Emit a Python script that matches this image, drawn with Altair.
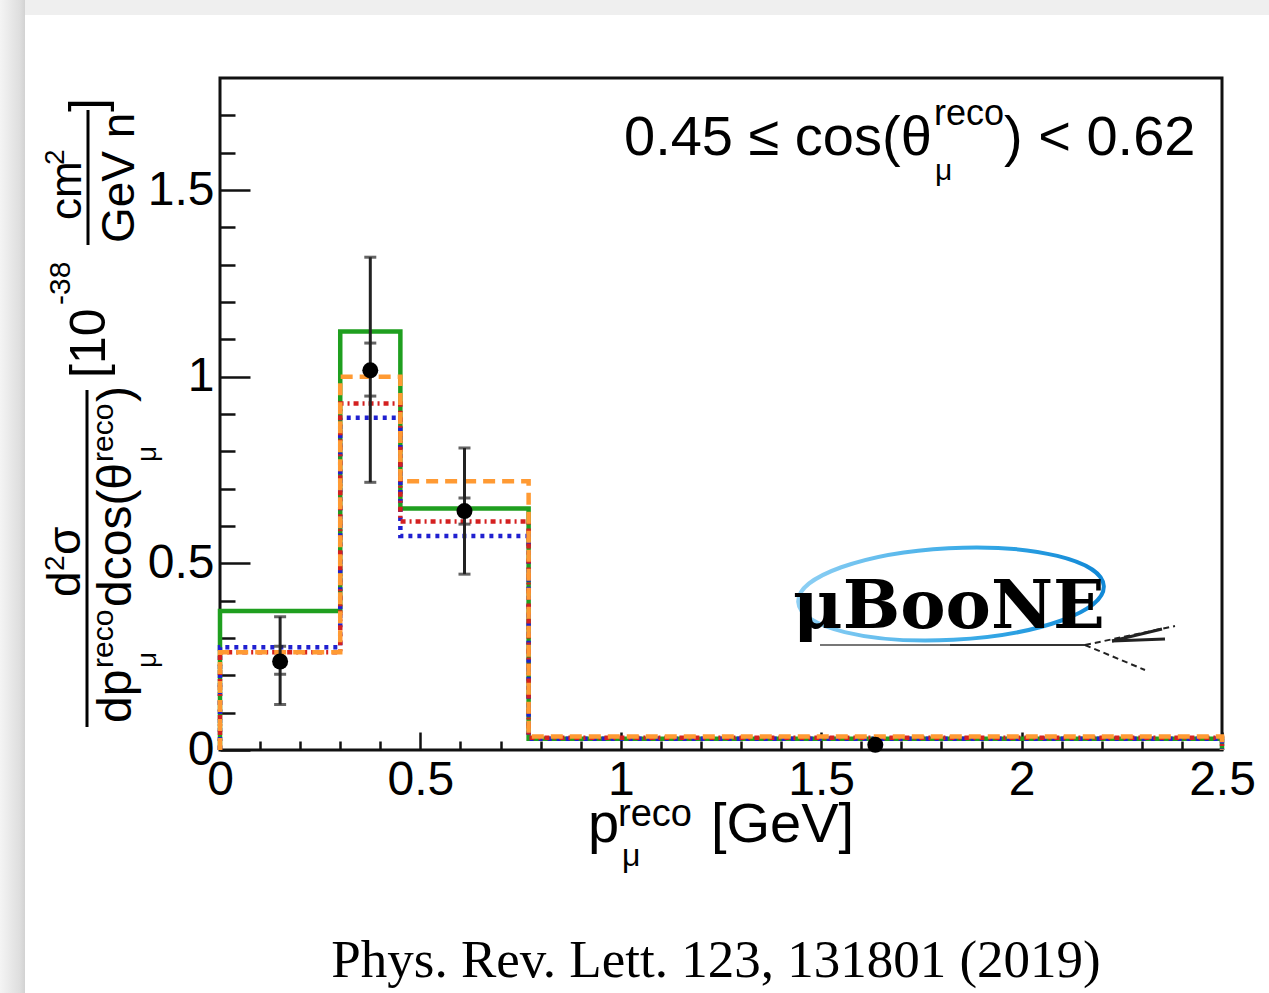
import altair as alt
import pandas as pd

# ---------------- data ----------------
bin_edges = [0.0, 0.30, 0.45, 0.77, 2.5]
green_vals = [0.372, 1.121, 0.647, 0.030]
orange_vals = [0.262, 1.000, 0.720, 0.036]
red_vals = [0.262, 0.928, 0.612, 0.033]
blue_vals = [0.275, 0.890, 0.573, 0.030]

data_x = [0.15, 0.375, 0.61, 1.635]
data_y = [0.237, 1.017, 0.640, 0.014]
tot_lo = [0.122, 0.717, 0.471, 0.008]
tot_hi = [0.357, 1.320, 0.809, 0.020]
stat_lo = [0.203, 0.948, 0.605, 0.010]
stat_hi = [0.278, 1.090, 0.675, 0.018]

x_major = [0, 0.5, 1, 1.5, 2, 2.5]
x_minor = [0.1, 0.2, 0.3, 0.4, 0.6, 0.7, 0.8, 0.9, 1.1, 1.2, 1.3, 1.4,
           1.6, 1.7, 1.8, 1.9, 2.1, 2.2, 2.3, 2.4]
y_major = [0, 0.5, 1, 1.5]
y_minor = [0.1, 0.2, 0.3, 0.4, 0.6, 0.7, 0.8, 0.9, 1.1, 1.2, 1.3, 1.4,
           1.6, 1.7]

label_texts = {
    "cut_main": "0.45 \u2264 cos(\u03b8",
    "cut_sup": "reco",
    "cut_sub": "\u03bc",
    "cut_end": ") < 0.62",
    "xt_p": "p",
    "xt_sup": "reco",
    "xt_sub": "\u03bc",
    "xt_unit": "[GeV]",
    "num_d": "d",
    "num_2": "2",
    "num_sigma": "\u03c3",
    "den_dp": "dp",
    "den_sup1": "reco",
    "den_sub1": "\u03bc",
    "den_dcos": "dcos(\u03b8",
    "den_sup2": "reco",
    "den_sub2": "\u03bc",
    "den_close": ")",
    "u_10": "[10",
    "u_exp": "-38",
    "u_cm": "cm",
    "u_cm2": "2",
    "u_gev": "GeV n",
    "u_close": "]",
    "logo": "\u03bcBooNE",
    "ref": "Phys. Rev. Lett. 123, 131801 (2019)",
}

FONT = "Liberation Sans"
SERIF = "Liberation Serif"
OX, OY = 220, 78  # plot origin on the page

xs = alt.Scale(domain=[0, 2.5], nice=False, zero=False)
ys = alt.Scale(domain=[0, 1.8], nice=False, zero=False)


def steps(vals):
    px, py = [bin_edges[0]], [0.0]
    for i, v in enumerate(vals):
        px += [bin_edges[i], bin_edges[i + 1]]
        py += [v, v]
    px.append(bin_edges[-1])
    py.append(0.0)
    return pd.DataFrame({"p": px, "s": py, "i": list(range(len(px)))})


lab_x = alt.Axis(values=x_major, format="~g", ticks=False, domain=False, grid=False,
                 labelFont=FONT, labelFontSize=48, labelColor="black", labelPadding=6,
                 labelFlush=False, labelOverlap=False, labelBound=False, title=None,
                 orient="bottom")
lab_y = alt.Axis(values=y_major, format="~g", ticks=False, domain=False, grid=False,
                 labelFont=FONT, labelFontSize=48, labelColor="black", labelPadding=6,
                 labelBaseline="middle", labelAlign="right", labelFlush=False,
                 labelOverlap=False, labelBound=False, title=None, orient="left")
maj_x = alt.Axis(values=x_major, labels=False, domain=False, grid=False, tickSize=18,
                 offset=-18, tickWidth=2.5, tickColor="#111", title=None, orient="bottom")
min_x = alt.Axis(values=x_minor, labels=False, domain=False, grid=False, tickSize=9,
                 offset=-9, tickWidth=2.5, tickColor="#111", title=None, orient="bottom")
maj_y = alt.Axis(values=y_major, labels=False, domain=False, grid=False, tickSize=30,
                 offset=-30, tickWidth=2.5, tickColor="#111", title=None, orient="left")
min_y = alt.Axis(values=y_minor, labels=False, domain=False, grid=False, tickSize=15,
                 offset=-15, tickWidth=2.5, tickColor="#111", title=None, orient="left")


def hist(vals, color, dash, ax_x, ax_y):
    kw = dict(color=color, strokeWidth=4.5, strokeCap="butt", interpolate="linear")
    if dash:
        kw["strokeDash"] = dash
    return alt.Chart(steps(vals)).mark_line(**kw).encode(
        x=alt.X("p:Q", scale=xs, axis=ax_x),
        y=alt.Y("s:Q", scale=ys, axis=ax_y),
        order=alt.Order("i:Q"),
    )


layers = []

# page shadow of the slide
bg = pd.DataFrame({"a": [0]})
layers.append(alt.Chart(bg).mark_rect(color="#efefef").encode(
    x=alt.value(-OX), x2=alt.value(1269 - OX), y=alt.value(-OY), y2=alt.value(15 - OY)))
layers.append(alt.Chart(bg).mark_rect(
    color=alt.LinearGradient(gradient="linear",
                             stops=[alt.GradientStop(offset=0, color="#f4f4f4"),
                                    alt.GradientStop(offset=0.8, color="#dedede"),
                                    alt.GradientStop(offset=1, color="#d2d2d2")],
                             x1=0, x2=1, y1=0, y2=0)).encode(
    x=alt.value(-OX), x2=alt.value(25 - OX), y=alt.value(-OY), y2=alt.value(993 - OY)))

# histograms
layers.append(hist(green_vals, "#1f9f1f", None, lab_x, lab_y))
layers.append(hist(blue_vals, "#2020d0", [4, 5], maj_x, maj_y))
layers.append(hist(red_vals, "#d42020", [5, 4, 2, 4], min_x, min_y))
layers.append(hist(orange_vals, "#ff9a33", [12, 7], None, None))

# data points with error bars
pts = pd.DataFrame({"x": data_x, "y": data_y, "lo": tot_lo, "hi": tot_hi,
                    "slo": stat_lo, "shi": stat_hi})
layers.append(alt.Chart(pts).mark_rule(color="#222", strokeWidth=3).encode(
    x=alt.X("x:Q", scale=xs, axis=None),
    y=alt.Y("lo:Q", scale=ys, axis=None), y2="hi:Q"))
caps = pd.DataFrame({"x": data_x * 4, "y": tot_lo + tot_hi + stat_lo + stat_hi})
layers.append(alt.Chart(caps).mark_tick(color="#222", orient="horizontal", size=12,
                                        thickness=3).encode(
    x=alt.X("x:Q", scale=xs, axis=None), y=alt.Y("y:Q", scale=ys, axis=None)))
layers.append(alt.Chart(pts).mark_circle(color="black", size=255, opacity=1).encode(
    x=alt.X("x:Q", scale=xs, axis=None), y=alt.Y("y:Q", scale=ys, axis=None)))


def txt(key, X, Y, size, angle=0, font=FONT, weight="normal", align="left",
        baseline="alphabetic", color="black"):
    return alt.Chart(pd.DataFrame({"t": [label_texts[key]]})).mark_text(
        font=font, fontSize=size, fontWeight=weight, align=align, baseline=baseline,
        angle=angle, color=color).encode(
        text="t:N", x=alt.value(X - OX), y=alt.value(Y - OY))


def seg(x1, y1, x2, y2, color="black", width=3, dash=None):
    kw = dict(color=color, strokeWidth=width)
    if dash:
        kw["strokeDash"] = dash
    return alt.Chart(bg).mark_rule(**kw).encode(
        x=alt.value(x1 - OX), y=alt.value(y1 - OY), x2=alt.value(x2 - OX),
        y2=alt.value(y2 - OY))


# cut label
layers += [
    txt("cut_main", 624, 155, 56),
    txt("cut_sup", 934, 125, 36),
    txt("cut_sub", 935, 180, 30),
    txt("cut_end", 1004, 155, 56),
]

# x title
layers += [
    txt("xt_p", 588, 842, 56),
    txt("xt_sup", 618, 826, 38),
    txt("xt_sub", 622, 866, 32),
    txt("xt_unit", 711, 842, 56),
]

# y title (rotated)
R = 270
layers += [
    txt("num_d", 80, 597, 46, R),
    txt("num_2", 64, 571, 28, R),
    txt("num_sigma", 80, 555, 46, R),
    seg(87, 390, 87, 727, "black", 3),
    txt("den_dp", 131, 723, 48, R),
    txt("den_sup1", 113, 668, 30, R),
    txt("den_sub1", 156, 668, 28, R),
    txt("den_dcos", 131, 607, 48, R),
    txt("den_sup2", 113, 462, 30, R),
    txt("den_sub2", 156, 462, 28, R),
    txt("den_close", 131, 402, 48, R),
    txt("u_10", 105, 378, 50, R),
    txt("u_exp", 70, 305, 30, R),
    txt("u_cm", 81, 220, 44, R),
    txt("u_cm2", 64, 165, 28, R),
    seg(88, 110, 88, 245, "black", 3),
    txt("u_gev", 134, 243, 46, R),
    txt("u_close", 104, 112, 50, R),
]

# MicroBooNE logo
layers.append(alt.Chart(bg).mark_point(
    shape="M -1 0 A 1 0.3 0 1 1 1 0 A 1 0.3 0 1 1 -1 0 Z", size=306 ** 2,
    filled=False,
    stroke=alt.LinearGradient(gradient="linear",
                              stops=[alt.GradientStop(offset=0, color="#8fd0f4"),
                                     alt.GradientStop(offset=0.6, color="#35a8e6"),
                                     alt.GradientStop(offset=1, color="#1188d6")],
                              x1=0, x2=1, y1=0, y2=0),
    strokeWidth=4, angle=357, opacity=1).encode(
    x=alt.value(951 - OX), y=alt.value(594 - OY)))
layers += [
    seg(820, 645, 1085, 645, "#777", 2),
    seg(950, 645, 1085, 645, "#333", 2),
    seg(1085, 645, 1175, 626, "#222", 2, [6, 4]),
    seg(1085, 645, 1145, 670, "#222", 2, [6, 4]),
    seg(1112, 641, 1162, 629, "#222", 3),
    seg(1112, 641, 1165, 639, "#222", 3),
    txt("logo", 793, 628, 68, 0, "DejaVu Serif", "bold"),
]

# reference line
layers.append(txt("ref", 716, 977, 53, 0, SERIF, "normal", "center"))

chart = alt.layer(*layers).resolve_axis(x="independent", y="independent").properties(
    width=1002, height=672,
    padding={"left": OX, "top": OY, "right": 1269 - OX - 1002, "bottom": 993 - OY - 672},
    autosize=alt.AutoSizeParams(type="none"),
    background="white",
).configure_view(stroke="#111", strokeWidth=3)

chart.save("out.html", embed_options={"renderer": "svg", "actions": False})
